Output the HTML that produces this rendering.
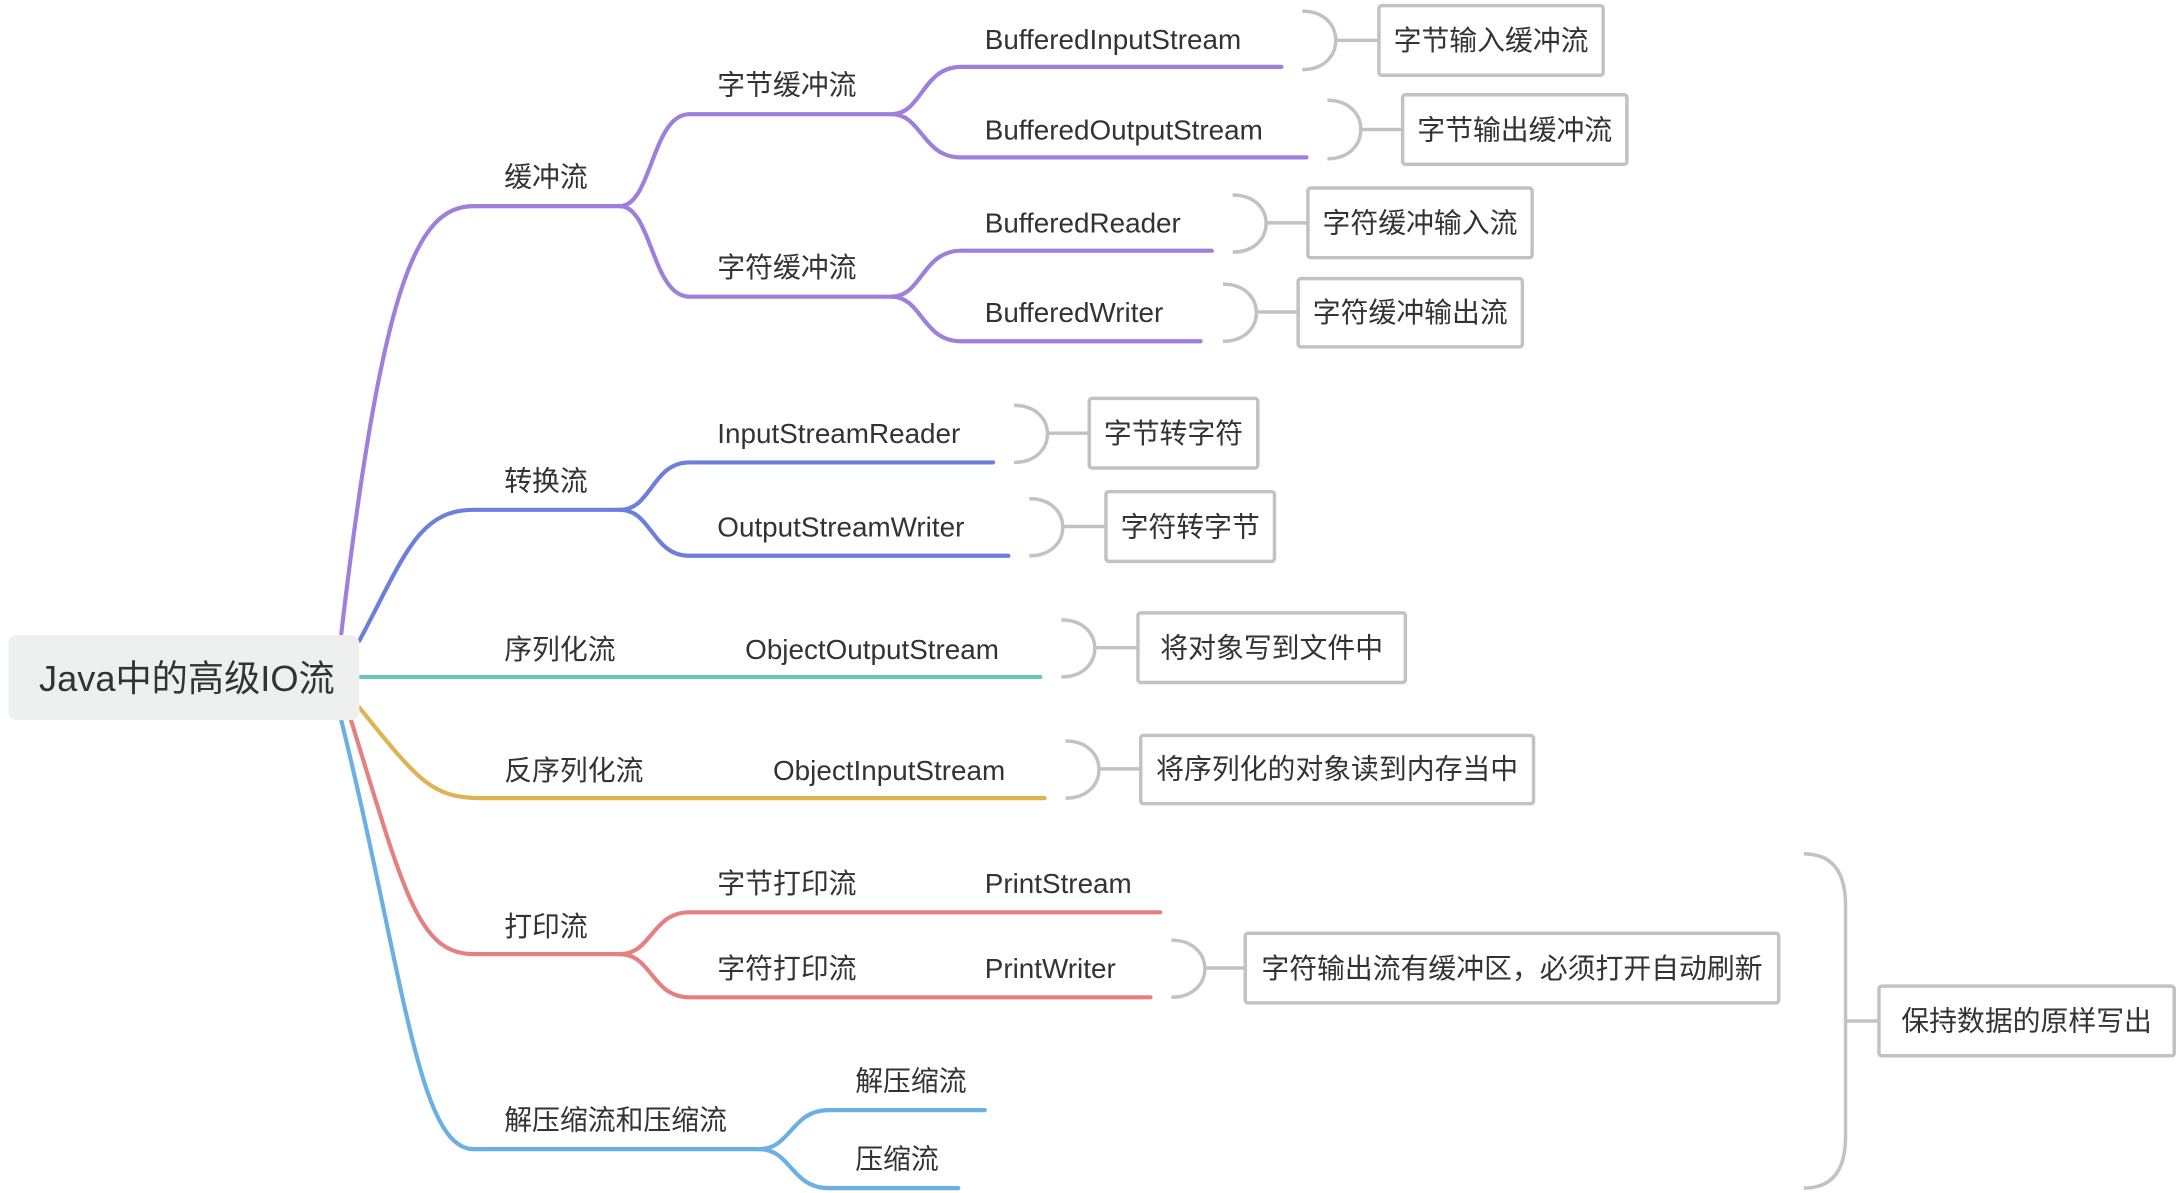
<!DOCTYPE html>
<html><head><meta charset="utf-8"><style>
html,body{margin:0;padding:0;background:#fff;}
svg{display:block;}
text{font-family:"Liberation Sans","Noto Sans CJK SC",sans-serif;fill:#333;font-size:20px;}
.l{fill:none;stroke-width:3;stroke-linecap:round;}
.g{fill:none;stroke:#c2c2c2;stroke-width:2.5;}
.b{fill:#fff;stroke:#c2c2c2;stroke-width:2.5;}
</style></head><body>
<svg width="2184" height="1193" viewBox="0 0 1568 856.5" preserveAspectRatio="none" xmlns="http://www.w3.org/2000/svg">
<!-- purple -->
<g stroke="#a07fdb" class="l">
<path class="l" stroke="#a07fdb" d="M245,455 C275,200 300,148 340,148 L445,148"/>
<path class="l" stroke="#a07fdb" d="M445,148 C468,148 468,82 495,82 L640,82"/>
<path class="l" stroke="#a07fdb" d="M445,148 C468,148 468,213 495,213 L640,213"/>
<path class="l" stroke="#a07fdb" d="M640,82 C662,82 662,48 690,48 L920,48"/>
<path class="l" stroke="#a07fdb" d="M640,82 C662,82 662,113 690,113 L938,113"/>
<path class="l" stroke="#a07fdb" d="M640,213 C662,213 662,180 690,180 L870,180"/>
<path class="l" stroke="#a07fdb" d="M640,213 C662,213 662,245 690,245 L862,245"/>
</g>
<path class="l" stroke="#6c7fdb" d="M258,460 C290,400 300,366 340,366 L445,366"/>
<path class="l" stroke="#6c7fdb" d="M445,366 C468,366 468,332 495,332 L713,332"/>
<path class="l" stroke="#6c7fdb" d="M445,366 C468,366 468,399 495,399 L724,399"/>
<path class="l" stroke="#6cc3c3" d="M258,486 L747,486"/>
<path class="l" stroke="#ddb452" d="M258,508 C300,560 310,573 345,573 L750,573"/>
<path class="l" stroke="#e58080" d="M252,517 C290,640 300,685 340,685 L445,685"/>
<path class="l" stroke="#e58080" d="M445,685 C468,685 468,655 495,655 L833,655"/>
<path class="l" stroke="#e58080" d="M445,685 C468,685 468,716 495,716 L826,716"/>
<path class="l" stroke="#6ab0e3" d="M245,517 C290,700 300,825 340,825 L545,825"/>
<path class="l" stroke="#6ab0e3" d="M545,825 C568,825 568,797 595,797 L707,797"/>
<path class="l" stroke="#6ab0e3" d="M545,825 C568,825 568,853 595,853 L688,853"/>

<!-- root -->
<rect x="6" y="456" width="252" height="61" rx="6" fill="#eef0f0"/>
<text x="28" y="496" style="font-size:26px">Java中的高级IO流</text>

<!-- labels -->
<text x="362" y="134">缓冲流</text>
<text x="515" y="68">字节缓冲流</text>
<text x="515" y="199">字符缓冲流</text>
<text x="707" y="35">BufferedInputStream</text>
<text x="707" y="100">BufferedOutputStream</text>
<text x="707" y="167">BufferedReader</text>
<text x="707" y="231">BufferedWriter</text>
<text x="362" y="352">转换流</text>
<text x="515" y="318">InputStreamReader</text>
<text x="515" y="385">OutputStreamWriter</text>
<text x="362" y="473">序列化流</text>
<text x="535" y="473">ObjectOutputStream</text>
<text x="362" y="560">反序列化流</text>
<text x="555" y="560">ObjectInputStream</text>
<text x="362" y="672">打印流</text>
<text x="515" y="641">字节打印流</text>
<text x="707" y="641">PrintStream</text>
<text x="515" y="702">字符打印流</text>
<text x="707" y="702">PrintWriter</text>
<text x="362" y="811">解压缩流和压缩流</text>
<text x="614" y="783">解压缩流</text>
<text x="614" y="839">压缩流</text>

<!-- braces + boxes -->
<path class="g" d="M935,8 C967,8 967,50 935,50 M959,29 L990,29"/>
<rect class="b" x="990" y="4" width="161" height="50" rx="2"/>
<text x="1070.5" y="36" text-anchor="middle">字节输入缓冲流</text>

<path class="g" d="M953,72 C985,72 985,114 953,114 M977,93 L1007,93"/>
<rect class="b" x="1007" y="68" width="161" height="50" rx="2"/>
<text x="1087.5" y="100" text-anchor="middle">字节输出缓冲流</text>

<path class="g" d="M885,140 C917,140 917,181 885,181 M909,160 L939,160"/>
<rect class="b" x="939" y="135" width="161" height="50" rx="2"/>
<text x="1019.5" y="167" text-anchor="middle">字符缓冲输入流</text>

<path class="g" d="M878,204 C910,204 910,245 878,245 M902,224 L932,224"/>
<rect class="b" x="932" y="200" width="161" height="49" rx="2"/>
<text x="1012.5" y="231" text-anchor="middle">字符缓冲输出流</text>

<path class="g" d="M728,291 C760,291 760,332 728,332 M752,311 L782,311"/>
<rect class="b" x="782" y="286" width="121" height="50" rx="2"/>
<text x="842.5" y="318" text-anchor="middle">字节转字符</text>

<path class="g" d="M739,358 C771,358 771,399 739,399 M763,378 L794,378"/>
<rect class="b" x="794" y="353" width="121" height="50" rx="2"/>
<text x="854.5" y="385" text-anchor="middle">字符转字节</text>

<path class="g" d="M762,445 C794,445 794,486 762,486 M786,465 L817,465"/>
<rect class="b" x="817" y="440" width="192" height="50" rx="2"/>
<text x="913" y="472" text-anchor="middle">将对象写到文件中</text>

<path class="g" d="M765,532 C797,532 797,573 765,573 M789,552 L819,552"/>
<rect class="b" x="819" y="528" width="282" height="49" rx="2"/>
<text x="960" y="559" text-anchor="middle">将序列化的对象读到内存当中</text>

<path class="g" d="M841,675 C873,675 873,716 841,716 M865,695 L894,695"/>
<rect class="b" x="894" y="670" width="383" height="50" rx="2"/>
<text x="1085.5" y="702" text-anchor="middle">字符输出流有缓冲区，必须打开自动刷新</text>

<path class="g" d="M1295,613 Q1325,613 1325,650 L1325,816 Q1325,853 1295,853 M1325,733 L1349,733"/>
<rect class="b" x="1349" y="708" width="212" height="50" rx="2"/>
<text x="1455" y="740" text-anchor="middle">保持数据的原样写出</text>
</svg>
</body></html>
